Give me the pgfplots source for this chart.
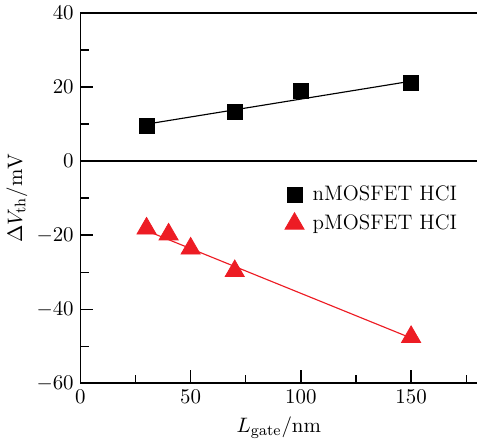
\documentclass[border=0pt]{standalone}
\usepackage{pgfplots}
\pgfplotsset{compat=1.18}
\definecolor{myred}{RGB}{237,28,36}
\begin{document}
\begin{tikzpicture}[font=\fontsize{11}{13}\selectfont]
\begin{axis}[
 scale only axis, width=208pt, height=194pt,
 xmin=0, xmax=180, ymin=-60, ymax=40,
 axis x line*=bottom, axis y line*=left,
 xtick={0,50,100,150}, minor xtick={25,75,125,175},
 ytick={-60,-40,...,40}, minor ytick={-50,-30,...,30},
 tick align=inside, major tick length=6.7pt, minor tick length=4.4pt,
 axis line style={line width=0.8pt,-},
 tick style={line width=0.7pt, black},
 tick label style={font=\fontsize{11}{13}\selectfont},
 label style={font=\fontsize{11}{13}\selectfont},
 xlabel={$L_{\rm gate}/{\rm nm}$}, ylabel={$\Delta V_{\rm th}/{\rm mV}$},
 ylabel style={yshift=-2pt},
 legend style={draw=none, fill=none, at={(0.5,0.555)}, anchor=north west, row sep=2pt, font=\fontsize{11}{13}\selectfont, nodes={inner xsep=4.5pt}},
 legend cell align=left,
 clip=false,
]
\draw[line width=0.8pt] (rel axis cs:0,1) -- (rel axis cs:1,1);
\draw[line width=0.8pt] (axis cs:0,0) -- (axis cs:180,0);
\addplot[black, line width=0.6pt, forget plot] coordinates {(30,10.0) (150,21.6)};
\addplot[myred, line width=0.6pt, forget plot] coordinates {(30,-18.8) (150,-47.8)};
\addplot[only marks, mark=square*, mark size=4pt, black] coordinates {(30,9.6) (70,13.3) (100,18.9) (150,21.1)};
\addlegendentry{nMOSFET HCI}
\addplot[only marks, mark=triangle*, mark size=5.8pt, myred, mark options={fill=myred}] coordinates {(30,-18.2) (40,-19.8) (50,-23.6) (70,-29.7) (150,-47.5)};
\addlegendentry{pMOSFET HCI}
\end{axis}
\end{tikzpicture}
\end{document}
